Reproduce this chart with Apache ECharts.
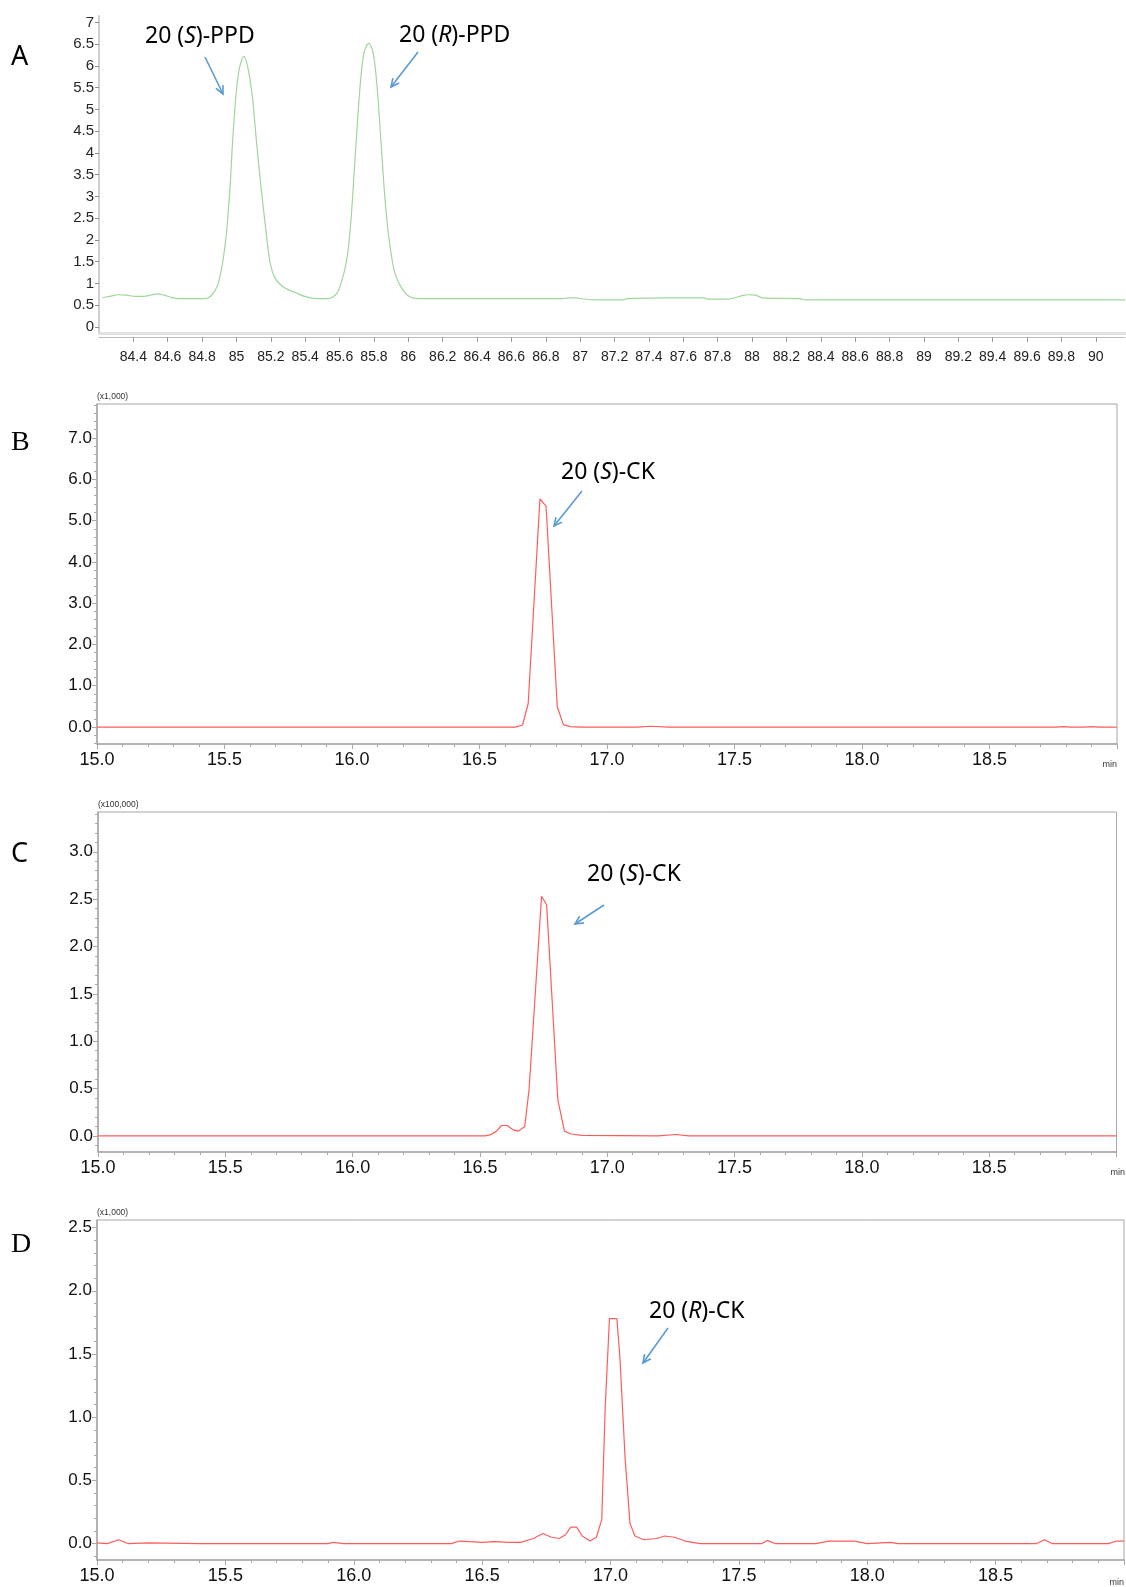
<!DOCTYPE html>
<html>
<head>
<meta charset="utf-8">
<title>Chromatograms</title>
<style>
  html, body { margin: 0; padding: 0; background: #fff; }
  #chart { width: 1126px; height: 1587px; }
</style>
<script src="https://cdn.jsdelivr.net/npm/echarts@6/dist/echarts.min.js"></script>
</head>
<body>
<div id="chart"></div>
<script>
// ---- panel A : 20(S)-PPD / 20(R)-PPD (green trace)
var aTime = [84.22, 84.27, 84.31, 84.36, 84.41, 84.46, 84.50, 84.54, 84.58, 84.62, 84.66, 84.75,
  84.816, 84.858, 84.89, 84.917, 84.942, 84.963, 84.976, 84.995, 85.016, 85.043, 85.068, 85.094,
  85.115, 85.142, 85.17, 85.195, 85.226, 85.28, 85.342, 85.405, 85.47, 85.532, 85.584, 85.616,
  85.632, 85.648, 85.665, 85.68, 85.70, 85.721, 85.742, 85.77, 85.795, 85.816, 85.837, 85.858,
  85.874, 85.89, 85.92, 85.963, 86.005, 86.058, 86.9, 86.93, 86.98, 87.0, 87.1, 87.25, 87.27,
  87.52, 87.72, 87.74, 87.86, 87.9, 87.94, 87.98, 88.02, 88.06, 88.28, 88.31, 90.17];
var aSignal = [0.67, 0.71, 0.74, 0.73, 0.70, 0.70, 0.73, 0.76, 0.73, 0.68, 0.65, 0.65,
  0.65, 0.74, 0.96, 1.42, 2.18, 3.25, 4.17, 5.24, 5.93, 6.22, 5.93, 5.24,
  4.32, 3.25, 2.26, 1.49, 1.11, 0.90, 0.79, 0.69, 0.65, 0.65, 0.77, 1.11,
  1.35, 1.72, 2.4, 3.25, 4.48, 5.62, 6.31, 6.52, 6.31, 5.62, 4.48, 3.25,
  2.5, 1.95, 1.26, 0.88, 0.70, 0.65, 0.65, 0.67, 0.67, 0.65, 0.62, 0.62, 0.65,
  0.67, 0.67, 0.64, 0.64, 0.67, 0.72, 0.74, 0.73, 0.67, 0.65, 0.62, 0.62];
var aTicksY = [0, 0.5, 1, 1.5, 2, 2.5, 3, 3.5, 4, 4.5, 5, 5.5, 6, 6.5, 7];

// ---- panel B : 20(S)-CK  (x1,000)
var bTime = [15.0, 16.64, 16.669, 16.691, 16.737, 16.761, 16.805, 16.829, 16.855, 16.9,
  17.12, 17.17, 17.24, 18.76, 18.79, 18.82, 18.87, 18.9, 18.93, 19.0];
var bSignal = [0, 0, 0.05, 0.57, 5.52, 5.35, 0.49, 0.06, 0.01, 0,
  0, 0.02, 0, 0, 0.01, 0, 0, 0.01, 0, 0];
var bTicksY = [0, 1, 2, 3, 4, 5, 6, 7];

// ---- panel C : 20(S)-CK  (x100,000)
var cTime = [15.0, 16.52, 16.54, 16.563, 16.585, 16.607, 16.631, 16.65, 16.676, 16.693,
  16.742, 16.762, 16.806, 16.832, 16.858, 16.9, 17.2, 17.27, 17.32, 19.0];
var cSignal = [0, 0, 0.01, 0.045, 0.11, 0.11, 0.063, 0.05, 0.10, 0.49,
  2.53, 2.44, 0.38, 0.05, 0.02, 0.005, 0, 0.015, 0, 0];
var cTicksY = [0, 0.5, 1, 1.5, 2, 2.5, 3];

// ---- panel D : 20(R)-CK  (x1,000)
var dTime = [15.0, 15.04, 15.085, 15.12, 15.2, 15.4, 15.9, 15.92, 15.96, 16.38, 16.41, 16.45,
  16.5, 16.55, 16.6, 16.65, 16.7, 16.737, 16.77, 16.8, 16.825, 16.845, 16.868, 16.89, 16.92,
  16.945, 16.966, 16.979, 16.996, 17.025, 17.037, 17.057, 17.076, 17.095, 17.13, 17.18, 17.21,
  17.25, 17.29, 17.35, 17.59, 17.61, 17.64, 17.8, 17.85, 17.95, 18.0, 18.09, 18.12, 18.66,
  18.69, 18.72, 18.94, 18.97, 19.0];
var dSignal = [0.005, 0, 0.03, 0, 0.005, 0, 0, 0.01, 0, 0, 0.02, 0.015,
  0.01, 0.015, 0.01, 0.01, 0.04, 0.08, 0.05, 0.04, 0.07, 0.13, 0.13, 0.06, 0.02,
  0.05, 0.19, 1.06, 1.78, 1.78, 1.46, 0.67, 0.16, 0.06, 0.03, 0.04, 0.06,
  0.05, 0.02, 0, 0, 0.025, 0, 0, 0.02, 0.02, 0, 0.01, 0, 0,
  0.03, 0, 0, 0.02, 0.02];
var dTicksY = [0, 0.5, 1, 1.5, 2, 2.5];

var FONT = 'Liberation Sans';
var GREEN = '#9fd69a';
var RED = '#ff5c5c';
var AXIS = '#a9a9a9';
var BLUE = '#5b9bd5';

function pairs(t, v) {
  return t.map(function (x, i) { return [x, v[i]]; });
}

// minor tick positions between min and max
function minors(min, max, step) {
  var out = [];
  var start = Math.ceil(min / step - 1e-9);
  for (var k = start; k * step <= max + 1e-9; k++) out.push(+(k * step).toFixed(4));
  return out;
}

function fmt1(v) { return v.toFixed(1); }

// shimadzu-style y axis (major labels) + companion axis carrying the minor ticks
function yAxes(grid, min, max, majors, minorStep, unit) {
  return [{
    type: 'value', gridIndex: grid, position: 'left', min: min, max: max,
    name: unit, nameLocation: 'end', nameGap: 3,
    nameTextStyle: { fontSize: 8.5, color: '#333', fontFamily: FONT, align: 'left', verticalAlign: 'bottom' },
    axisLine: { show: true, onZero: false, lineStyle: { color: AXIS, width: 1.5 } },
    axisTick: { show: true, length: 5, customValues: majors, lineStyle: { color: AXIS } },
    axisLabel: { fontSize: 17, color: '#111', fontFamily: FONT, margin: 5, customValues: majors, formatter: fmt1 },
    splitLine: { show: false }
  }, {
    type: 'value', gridIndex: grid, position: 'left', min: min, max: max,
    axisLine: { show: false },
    axisTick: { show: true, length: 3, customValues: minors(min, max, minorStep), lineStyle: { color: AXIS } },
    axisLabel: { show: false },
    splitLine: { show: false }
  }];
}

function timeAxis(grid, nameGap, nameAlign, namePad) {
  return {
    type: 'value', gridIndex: grid, position: 'bottom', min: 15, max: 19, interval: 0.5,
    name: 'min', nameLocation: 'end', nameGap: nameGap,
    nameTextStyle: { fontSize: 9, color: '#333', fontFamily: FONT, align: nameAlign, verticalAlign: 'top', padding: [namePad, 0, 0, 0] },
    axisLine: { show: true, onZero: false, lineStyle: { color: AXIS, width: 1.5 } },
    axisTick: { show: true, length: 5, lineStyle: { color: AXIS } },
    minorTick: { show: true, splitNumber: 5, length: 3, lineStyle: { color: AXIS } },
    axisLabel: { fontSize: 18, color: '#111', fontFamily: FONT, margin: 7, showMaxLabel: false, formatter: fmt1 },
    splitLine: { show: false }
  };
}

function peakLabel(x, y, pre, it, post) {
  var base = { fontSize: 23, fontFamily: 'Noto Sans', fill: '#000' };
  return {
    type: 'text', x: x, y: y,
    style: {
      text: '{n|' + pre + '}{i|' + it + '}{n|' + post + '}',
      rich: { n: base, i: Object.assign({ fontStyle: 'italic' }, base) },
      align: 'left', verticalAlign: 'middle'
    }
  };
}

function arrow(x1, y1, x2, y2) {
  var ang = Math.atan2(y2 - y1, x2 - x1), L = 9, w = 0.45;
  return [
    { type: 'line', shape: { x1: x1, y1: y1, x2: x2, y2: y2 }, style: { stroke: BLUE, lineWidth: 1.6 } },
    { type: 'polyline', shape: { points: [
        [x2 - L * Math.cos(ang - w), y2 - L * Math.sin(ang - w)], [x2, y2],
        [x2 - L * Math.cos(ang + w), y2 - L * Math.sin(ang + w)]] },
      style: { stroke: BLUE, lineWidth: 1.6, fill: 'none' } }
  ];
}

function panelLetter(ch, y, serif) {
  return { type: 'text', x: 11, y: y,
    style: { text: ch, fontSize: serif ? 28 : 27, fontFamily: serif ? 'Liberation Serif' : 'Noto Sans',
      fill: '#000', verticalAlign: 'middle' } };
}

var frame = { show: true, borderColor: '#a6a6a6', borderWidth: 1, backgroundColor: 'transparent' };

var yB = yAxes(1, -0.41, 7.82, bTicksY, 0.2, '(x1,000)');
var yC = yAxes(2, -0.17, 3.42, cTicksY, 0.1, '(x100,000)');
var yD = yAxes(3, -0.13, 2.56, dTicksY, 0.1, '(x1,000)');

var option = {
  animation: false,
  backgroundColor: '#fff',
  grid: [
    { left: 99, top: 16, width: 1026, height: 317 },
    Object.assign({ left: 97, top: 404, width: 1020, height: 340 }, frame),
    Object.assign({ left: 98, top: 812, width: 1027, height: 340 }, frame),
    Object.assign({ left: 97, top: 1220, width: 1027, height: 343 }, frame)
  ],
  xAxis: [
    { // A : retention time (Excel style)
      type: 'value', gridIndex: 0, position: 'bottom', offset: 4, min: 84.2, max: 90.17, interval: 0.2,
      axisLine: { show: true, onZero: false, lineStyle: { color: '#bdbdbd', width: 1 } },
      axisTick: { show: true, length: 5, lineStyle: { color: '#9a9a9a' } },
      axisLabel: { fontSize: 14, color: '#222', fontFamily: FONT, margin: 13, showMinLabel: false, showMaxLabel: false,
        formatter: function (v) { return String(+v.toFixed(1)); } },
      splitLine: { show: false }
    },
    { // A : plot-area bottom border
      type: 'value', gridIndex: 0, position: 'bottom', offset: 0, min: 84.2, max: 90.17,
      axisLine: { show: true, onZero: false, lineStyle: { color: '#e2e2e2', width: 3 } },
      axisTick: { show: false }, axisLabel: { show: false }, splitLine: { show: false }
    },
    timeAxis(1, 0, 'right', 16),
    timeAxis(2, -6, 'left', 16),
    timeAxis(3, 0, 'right', 18)
  ],
  yAxis: [
    {
      type: 'value', gridIndex: 0, position: 'left', min: -0.14, max: 7.15,
      axisLine: { show: true, onZero: false, lineStyle: { color: '#cfcfcf', width: 2 } },
      axisTick: { show: true, length: 4, customValues: aTicksY, lineStyle: { color: '#8c8c8c' } },
      axisLabel: { fontSize: 15, color: '#262626', fontFamily: FONT, margin: 5, customValues: aTicksY,
        formatter: function (v) { return String(v); } },
      splitLine: { show: false }
    }
  ].concat(yB, yC, yD),
  series: [
    { name: 'PPD', type: 'line', xAxisIndex: 0, yAxisIndex: 0, data: pairs(aTime, aSignal),
      showSymbol: false, smooth: 0.3, lineStyle: { color: GREEN, width: 1.2 } },
    { name: 'B', type: 'line', xAxisIndex: 2, yAxisIndex: 1, data: pairs(bTime, bSignal),
      showSymbol: false, lineStyle: { color: RED, width: 1.2 } },
    { name: 'C', type: 'line', xAxisIndex: 3, yAxisIndex: 3, data: pairs(cTime, cSignal),
      showSymbol: false, lineStyle: { color: RED, width: 1.2 } },
    { name: 'D', type: 'line', xAxisIndex: 4, yAxisIndex: 5, data: pairs(dTime, dSignal),
      showSymbol: false, lineStyle: { color: RED, width: 1.2 } }
  ],
  graphic: [
    panelLetter('A', 57, false),
    panelLetter('B', 443, true),
    panelLetter('C', 854, false),
    panelLetter('D', 1245, true),
    peakLabel(145, 36, '20 (', 'S', ')-PPD'),
    peakLabel(399, 35, '20 (', 'R', ')-PPD'),
    peakLabel(561, 472, '20 (', 'S', ')-CK'),
    peakLabel(587, 874, '20 (', 'S', ')-CK'),
    peakLabel(649, 1311, '20 (', 'R', ')-CK')
  ].concat(
    arrow(205, 57, 223, 94),
    arrow(418, 52, 391, 87),
    arrow(582, 491, 554, 526),
    arrow(604, 905, 575, 924),
    arrow(668, 1328, 643, 1363)
  )
};

var myChart = echarts.init(document.getElementById('chart'));
myChart.setOption(option);
</script>
</body>
</html>
